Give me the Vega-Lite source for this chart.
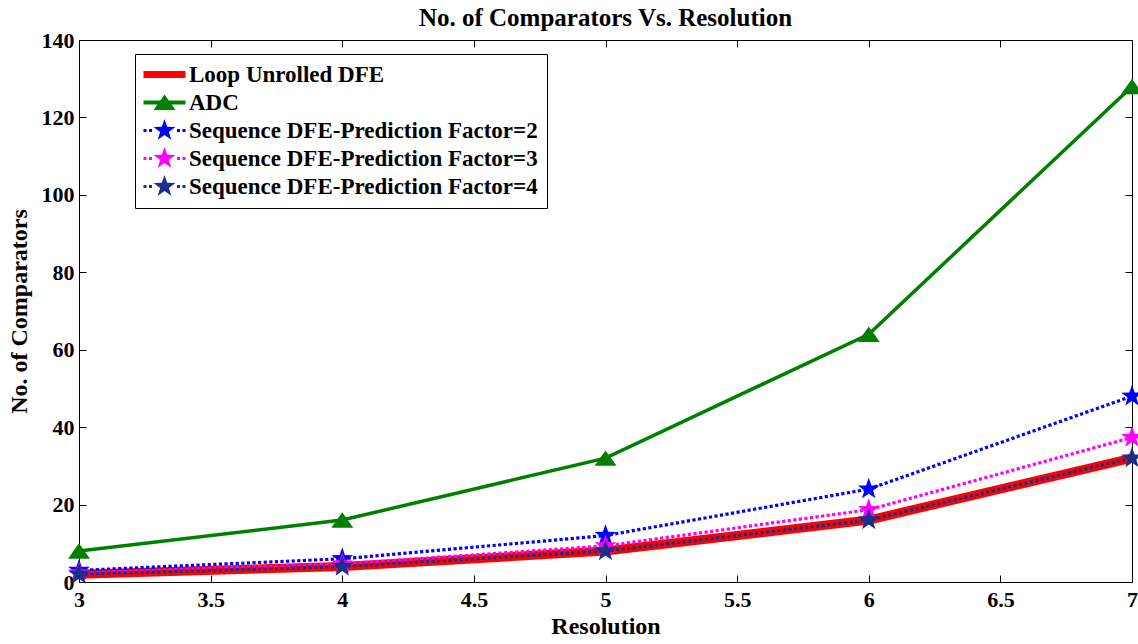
{
  "$schema": "https://vega.github.io/schema/vega-lite/v6.json",
  "width": 1053,
  "height": 542,
  "autosize": {"type": "none"},
  "padding": {"left": 79, "top": 40, "right": 6, "bottom": 62},
  "background": "white",
  "config": {"view": {"stroke": null}, "font": "Liberation Serif"},
  "title": {"text": "No. of Comparators Vs. Resolution", "font": "Liberation Serif", "fontSize": 25, "fontWeight": "bold", "color": "black", "anchor": "middle", "offset": 0, "dy": 2},
  "data": {"values": [
    {"series": "Loop Unrolled DFE", "res": 3, "n": 2},
    {"series": "Loop Unrolled DFE", "res": 4, "n": 4},
    {"series": "Loop Unrolled DFE", "res": 5, "n": 8},
    {"series": "Loop Unrolled DFE", "res": 6, "n": 16},
    {"series": "Loop Unrolled DFE", "res": 7, "n": 32},
    {"series": "ADC", "res": 3, "n": 8},
    {"series": "ADC", "res": 4, "n": 16},
    {"series": "ADC", "res": 5, "n": 32},
    {"series": "ADC", "res": 6, "n": 64},
    {"series": "ADC", "res": 7, "n": 128},
    {"series": "Sequence DFE-Prediction Factor=2", "res": 3, "n": 3},
    {"series": "Sequence DFE-Prediction Factor=2", "res": 4, "n": 6},
    {"series": "Sequence DFE-Prediction Factor=2", "res": 5, "n": 12},
    {"series": "Sequence DFE-Prediction Factor=2", "res": 6, "n": 24},
    {"series": "Sequence DFE-Prediction Factor=2", "res": 7, "n": 48},
    {"series": "Sequence DFE-Prediction Factor=3", "res": 3, "n": 2.33},
    {"series": "Sequence DFE-Prediction Factor=3", "res": 4, "n": 4.67},
    {"series": "Sequence DFE-Prediction Factor=3", "res": 5, "n": 9.33},
    {"series": "Sequence DFE-Prediction Factor=3", "res": 6, "n": 18.67},
    {"series": "Sequence DFE-Prediction Factor=3", "res": 7, "n": 37.33},
    {"series": "Sequence DFE-Prediction Factor=4", "res": 3, "n": 2},
    {"series": "Sequence DFE-Prediction Factor=4", "res": 4, "n": 4},
    {"series": "Sequence DFE-Prediction Factor=4", "res": 5, "n": 8},
    {"series": "Sequence DFE-Prediction Factor=4", "res": 6, "n": 16},
    {"series": "Sequence DFE-Prediction Factor=4", "res": 7, "n": 32}
  ]},
  "layer": [
    {
      "encoding": {
        "x": {"field": "res", "type": "quantitative", "scale": {"domain": [3, 7], "nice": false, "zero": false},
          "axis": {"orient": "bottom", "title": "Resolution", "values": [3, 3.5, 4, 4.5, 5, 5.5, 6, 6.5, 7], "format": "~g", "grid": false,
            "domainColor": "black", "domainWidth": 1, "tickColor": "black", "tickSize": -7, "tickWidth": 1,
            "labelFont": "Liberation Serif", "labelFontSize": 22, "labelFontWeight": "bold", "labelColor": "black", "labelPadding": 14, "labelFlush": false, "labelOverlap": false,
            "titleFont": "Liberation Serif", "titleFontSize": 24, "titleFontWeight": "bold", "titleColor": "black", "titlePadding": 4}},
        "y": {"field": "n", "type": "quantitative", "scale": {"domain": [0, 140], "nice": false},
          "axis": {"orient": "left", "title": "No. of Comparators", "values": [0, 20, 40, 60, 80, 100, 120, 140], "grid": false,
            "domainColor": "black", "domainWidth": 1, "tickColor": "black", "tickSize": -7, "tickWidth": 1,
            "labelFont": "Liberation Serif", "labelFontSize": 22, "labelFontWeight": "bold", "labelColor": "black", "labelPadding": 12, "labelFlush": false, "labelOverlap": false,
            "titleFont": "Liberation Serif", "titleFontSize": 24, "titleFontWeight": "bold", "titleColor": "black", "titlePadding": 10}}
      },
      "layer": [
        {"transform": [{"filter": "datum.series === 'Loop Unrolled DFE'"}],
         "mark": {"type": "line", "color": "#FF0000", "strokeWidth": 9, "strokeJoin": "round"}},
        {"transform": [{"filter": "datum.series === 'ADC'"}],
         "mark": {"type": "line", "color": "#008000", "strokeWidth": 3.5,
           "point": {"filled": true, "color": "#008000", "size": 484, "opacity": 1, "shape": "M0,-0.7L1,0.7L-1,0.7Z"}}},
        {"transform": [{"filter": "datum.series === 'Sequence DFE-Prediction Factor=2'"}],
         "mark": {"type": "line", "color": "#0000FF", "strokeWidth": 3.2, "strokeDash": [3.2, 2.4], "strokeCap": "butt",
           "point": {"filled": true, "color": "#0000FF", "size": 520, "opacity": 1, "shape": "M0,-1L0.235,-0.324L0.951,-0.309L0.38,0.124L0.588,0.809L0,0.4L-0.588,0.809L-0.38,0.124L-0.951,-0.309L-0.235,-0.324Z"}}},
        {"transform": [{"filter": "datum.series === 'Sequence DFE-Prediction Factor=3'"}],
         "mark": {"type": "line", "color": "#FF00FF", "strokeWidth": 3.2, "strokeDash": [3.2, 2.4], "strokeCap": "butt",
           "point": {"filled": true, "color": "#FF00FF", "size": 520, "opacity": 1, "shape": "M0,-1L0.235,-0.324L0.951,-0.309L0.38,0.124L0.588,0.809L0,0.4L-0.588,0.809L-0.38,0.124L-0.951,-0.309L-0.235,-0.324Z"}}},
        {"transform": [{"filter": "datum.series === 'Sequence DFE-Prediction Factor=4'"}],
         "mark": {"type": "line", "color": "#1B2E8B", "strokeWidth": 3.2, "strokeDash": [3.2, 2.4], "strokeCap": "butt",
           "point": {"filled": true, "color": "#1B2E8B", "size": 520, "opacity": 1, "shape": "M0,-1L0.235,-0.324L0.951,-0.309L0.38,0.124L0.588,0.809L0,0.4L-0.588,0.809L-0.38,0.124L-0.951,-0.309L-0.235,-0.324Z"}}},
        {"mark": {"type": "point", "filled": true, "opacity": 0},
         "encoding": {
           "shape": {"field": "series", "type": "nominal",
             "scale": {"domain": ["Loop Unrolled DFE", "ADC", "Sequence DFE-Prediction Factor=2", "Sequence DFE-Prediction Factor=3", "Sequence DFE-Prediction Factor=4"],
               "range": [
                 "M-2.1,-0.35L2.1,-0.35L2.1,0.35L-2.1,0.35Z",
                 "M-2.1,-0.2L2.1,-0.2L2.1,0.2L-2.1,0.2Z M0,-0.8L1.1,0.75L-1.1,0.75Z",
                 "M0,-1.15L0.27,-0.373L1.094,-0.355L0.437,0.143L0.676,0.93L0,0.46L-0.676,0.93L-0.437,0.143L-1.094,-0.355L-0.27,-0.373Z M-2.1,-0.15L-1.8,-0.15L-1.8,0.15L-2.1,0.15Z M-1.55,-0.15L-1.25,-0.15L-1.25,0.15L-1.55,0.15Z M1.25,-0.15L1.55,-0.15L1.55,0.15L1.25,0.15Z M1.8,-0.15L2.1,-0.15L2.1,0.15L1.8,0.15Z",
                 "M0,-1.15L0.27,-0.373L1.094,-0.355L0.437,0.143L0.676,0.93L0,0.46L-0.676,0.93L-0.437,0.143L-1.094,-0.355L-0.27,-0.373Z M-2.1,-0.15L-1.8,-0.15L-1.8,0.15L-2.1,0.15Z M-1.55,-0.15L-1.25,-0.15L-1.25,0.15L-1.55,0.15Z M1.25,-0.15L1.55,-0.15L1.55,0.15L1.25,0.15Z M1.8,-0.15L2.1,-0.15L2.1,0.15L1.8,0.15Z",
                 "M0,-1.15L0.27,-0.373L1.094,-0.355L0.437,0.143L0.676,0.93L0,0.46L-0.676,0.93L-0.437,0.143L-1.094,-0.355L-0.27,-0.373Z M-2.1,-0.15L-1.8,-0.15L-1.8,0.15L-2.1,0.15Z M-1.55,-0.15L-1.25,-0.15L-1.25,0.15L-1.55,0.15Z M1.25,-0.15L1.55,-0.15L1.55,0.15L1.25,0.15Z M1.8,-0.15L2.1,-0.15L2.1,0.15L1.8,0.15Z"
               ]},
             "legend": {"orient": "none", "legendX": 56, "legendY": 14, "title": null, "padding": 9, "strokeColor": "black", "fillColor": "white", "cornerRadius": 0,
               "symbolSize": 400, "symbolStrokeWidth": 0, "symbolOpacity": 1, "symbolOffset": 9, "labelOffset": 13,
               "labelFont": "Liberation Serif", "labelFontSize": 23, "labelFontWeight": "bold", "labelColor": "black", "labelLimit": 0, "rowPadding": 4}},
           "color": {"field": "series", "type": "nominal",
             "scale": {"domain": ["Loop Unrolled DFE", "ADC", "Sequence DFE-Prediction Factor=2", "Sequence DFE-Prediction Factor=3", "Sequence DFE-Prediction Factor=4"],
               "range": ["#FF0000", "#008000", "#0000FF", "#FF00FF", "#1B2E8B"]},
             "legend": {"orient": "none", "legendX": 56, "legendY": 14, "title": null, "padding": 9, "strokeColor": "black", "fillColor": "white", "cornerRadius": 0,
               "symbolSize": 400, "symbolStrokeWidth": 0, "symbolOpacity": 1, "symbolOffset": 9, "labelOffset": 13,
               "labelFont": "Liberation Serif", "labelFontSize": 23, "labelFontWeight": "bold", "labelColor": "black", "labelLimit": 0, "rowPadding": 4}}
         }}
      ]
    },
    {
      "mark": {"type": "point", "opacity": 0},
      "encoding": {
        "x": {"field": "res", "type": "quantitative", "scale": {"domain": [3, 7], "nice": false, "zero": false},
          "axis": {"orient": "top", "title": null, "labels": false, "values": [3, 3.5, 4, 4.5, 5, 5.5, 6, 6.5, 7], "grid": false,
            "domainColor": "black", "domainWidth": 1, "tickColor": "black", "tickSize": -7, "tickWidth": 1}},
        "y": {"field": "n", "type": "quantitative", "scale": {"domain": [0, 140], "nice": false},
          "axis": {"orient": "right", "title": null, "labels": false, "values": [0, 20, 40, 60, 80, 100, 120, 140], "grid": false,
            "domainColor": "black", "domainWidth": 1, "tickColor": "black", "tickSize": -7, "tickWidth": 1}}
      }
    }
  ],
  "resolve": {"axis": {"x": "independent", "y": "independent"}}
}
